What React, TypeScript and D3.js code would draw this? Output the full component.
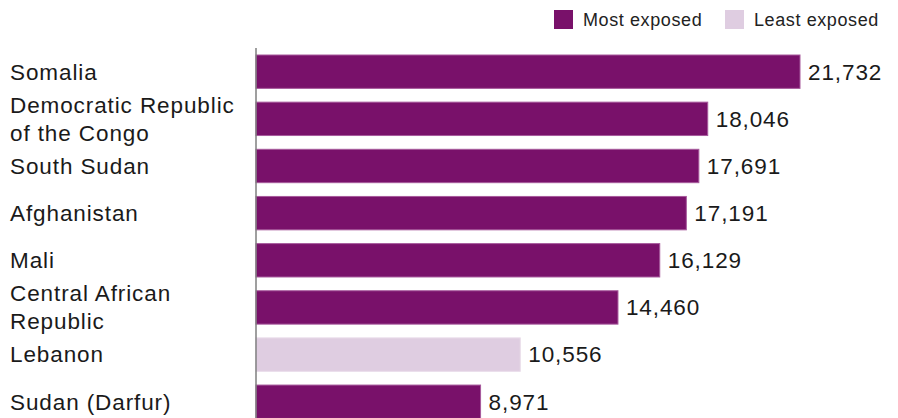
import React from "react";
import * as d3 from "d3";

const categories = [
  "Somalia",
  "Democratic Republic of the Congo",
  "South Sudan",
  "Afghanistan",
  "Mali",
  "Central African Republic",
  "Lebanon",
  "Sudan (Darfur)",
];
const labelLines = [
  ["Somalia"],
  ["Democratic Republic", "of the Congo"],
  ["South Sudan"],
  ["Afghanistan"],
  ["Mali"],
  ["Central African", "Republic"],
  ["Lebanon"],
  ["Sudan (Darfur)"],
];
const values = [21732, 18046, 17691, 17191, 16129, 14460, 10556, 8971];
const groups = ["Most", "Most", "Most", "Most", "Most", "Most", "Least", "Most"];
const legendItems = [
  { key: "Most", label: "Most exposed" },
  { key: "Least", label: "Least exposed" },
];

const W = 898;
const H = 418;
const axisX = 256;
const FONT = "'Liberation Sans', Arial, Helvetica, sans-serif";
const colors: Record<string, string> = { Most: "#79116a", Least: "#dfcde1" };
const strokes: Record<string, string> = { Most: "#a75a9c", Least: "#e8dbe9" };

export default function App() {
  const x = d3.scaleLinear().domain([0, 21732]).range([axisX, 800]);
  const step = 47.15;
  const p = 0.292;
  const y = d3
    .scaleBand<string>()
    .domain(categories)
    .range([55, 55 + step * (categories.length - p)])
    .paddingInner(p)
    .paddingOuter(0);
  const fmt = d3.format(",");
  const lineH = 28;
  const fs = 22.5;
  const ls = 0.9;

  return (
    <svg
      width={W}
      height={H}
      style={{ position: "absolute", left: 0, top: 0, background: "#fff" }}
      fontFamily={FONT}
    >
      {legendItems.map((item, i) => {
        const lx = i === 0 ? 554 : 725;
        return (
          <g key={item.key}>
            <rect x={lx} y={10} width={19} height={19} fill={colors[item.key]} />
            <text
              x={lx + 29}
              y={20}
              dy="0.35em"
              fontSize={18}
              letterSpacing={0.6}
              fill="#222"
            >
              {item.label}
            </text>
          </g>
        );
      })}
      {categories.map((c, i) => {
        const by = y(c)!;
        const bh = y.bandwidth();
        const cy = by + bh / 2;
        const lines = labelLines[i];
        const start = cy - ((lines.length - 1) * lineH) / 2;
        return (
          <g key={c}>
            <rect
              x={axisX}
              y={by}
              width={x(values[i]) - axisX}
              height={bh}
              fill={colors[groups[i]]}
              stroke={strokes[groups[i]]}
              strokeWidth={1}
            />
            <text
              x={x(values[i]) + 8}
              y={cy}
              dy="0.35em"
              fontSize={fs}
              letterSpacing={ls}
              fill="#1a1a1a"
            >
              {fmt(values[i])}
            </text>
            {lines.map((ln, j) => (
              <text
                key={j}
                x={10}
                y={start + j * lineH}
                dy="0.35em"
                fontSize={fs}
                letterSpacing={ls}
                fill="#1a1a1a"
              >
                {ln}
              </text>
            ))}
          </g>
        );
      })}
      <line x1={axisX} x2={axisX} y1={48} y2={H} stroke="#7f7f7f" strokeWidth={1.5} />
    </svg>
  );
}
